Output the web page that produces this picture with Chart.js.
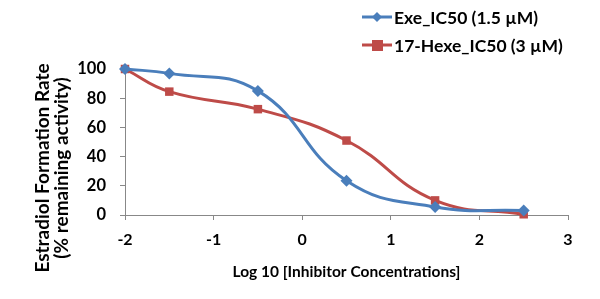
<!DOCTYPE html>
<html><head><meta charset="utf-8">
<script src="https://cdn.jsdelivr.net/npm/chart.js@4"></script>
<style>html,body{margin:0;padding:0;background:#fff}#wrap{width:600px;height:299px}</style>
</head><body><div id="wrap"><canvas id="c"></canvas></div>
<script>
const logConc = [-2, -1.5, -0.5, 0.5, 1.5, 2.5];
const exeValues = [100, 97, 85, 23.5, 5.5, 3];
const hexeValues = [100, 84.5, 72.5, 51, 10, 0.5];
const seriesNames = ['Exe_IC50 (1.5 \u00b5M)', '17-Hexe_IC50 (3 \u00b5M)'];
const yTitleLines = ['Estradiol Formation Rate', '(% remaining activity)'];
const xTitle = 'Log 10 [Inhibitor Concentrations]';
const xTicks = [-2, -1, 0, 1, 2, 3];
const yTicks = [0, 20, 40, 60, 80, 100];

const FONT = 'Lato, "Liberation Sans", sans-serif';
const BLUE = '#4A7EBB', RED = '#BE4B48';

const legendPlugin = {
  id: 'xlLegend',
  afterDraw(chart) {
    const ctx = chart.ctx;
    const items = [
      {name: seriesNames[0], color: BLUE, shape: 'diamond', y: 17},
      {name: seriesNames[1], color: RED, shape: 'square', y: 45}
    ];
    ctx.save();
    items.forEach(it => {
      ctx.strokeStyle = it.color; ctx.lineWidth = 3;
      ctx.beginPath(); ctx.moveTo(362, it.y); ctx.lineTo(392, it.y); ctx.stroke();
      ctx.fillStyle = it.color;
      if (it.shape === 'diamond') {
        ctx.beginPath(); ctx.moveTo(377, it.y - 5); ctx.lineTo(382, it.y); ctx.lineTo(377, it.y + 5); ctx.lineTo(372, it.y); ctx.closePath(); ctx.fill();
      } else {
        ctx.fillRect(372, it.y - 5, 11, 11);
      }
      ctx.fillStyle = '#000';
      ctx.font = 'bold 17.5px ' + FONT;
      ctx.textBaseline = 'middle';
      ctx.textAlign = 'left';
      ctx.fillText(it.name, 394, it.y + 1);
    });
    // y-axis title (two rotated lines)
    ctx.font = 'bold 19px ' + FONT;
    ctx.textAlign = 'center';
    ctx.textBaseline = 'middle';
    [43, 62].forEach((x, i) => {
      ctx.save();
      ctx.translate(x, 168);
      ctx.rotate(-Math.PI / 2);
      ctx.fillText(yTitleLines[i], 0, 0);
      ctx.restore();
    });
    ctx.restore();
  }
};

new Chart(document.getElementById('c'), {
  type: 'line',
  data: {
    datasets: [
      {label: seriesNames[0], data: logConc.map((x, i) => ({x, y: exeValues[i]})),
       borderColor: BLUE, backgroundColor: BLUE, borderWidth: 3, tension: 0.45, clip: false,
       pointStyle: 'rectRot', pointRadius: 6, pointHoverRadius: 6, pointBorderWidth: 0},
      {label: seriesNames[1], data: logConc.map((x, i) => ({x, y: hexeValues[i]})),
       borderColor: RED, backgroundColor: RED, borderWidth: 3, tension: 0.45, clip: false,
       pointStyle: 'rect', pointRadius: 6, pointHoverRadius: 6, pointBorderWidth: 0}
    ]
  },
  options: {
    responsive: true, maintainAspectRatio: false, animation: false,
    layout: {padding: {top: 69, right: 32, bottom: 14, left: 0}},
    plugins: {legend: {display: false}, tooltip: {enabled: false}},
    scales: {
      x: {
        type: 'linear', min: -2, max: 3,
        afterBuildTicks: s => { s.ticks = xTicks.map(v => ({value: v})); },
        afterFit: s => { s.height = 70; },
        border: {color: '#888', width: 1},
        grid: {drawOnChartArea: false, drawTicks: true, tickLength: 5, color: '#888'},
        ticks: {color: '#000', font: {family: FONT, size: 16, weight: 'bold'}, padding: 10},
        title: {display: true, text: xTitle, color: '#000',
                font: {family: FONT, size: 15.5, weight: 'bold'}, padding: {top: 6}}
      },
      y: {
        min: 0, max: 100,
        afterBuildTicks: s => { s.ticks = yTicks.map(v => ({value: v})); },
        afterFit: s => { s.width = 125; },
        border: {color: '#888', width: 1},
        grid: {drawOnChartArea: false, drawTicks: true, tickLength: 5, color: '#888'},
        ticks: {color: '#000', font: {family: FONT, size: 16.5, weight: 'bold'}, padding: 14},
        title: {display: false}
      }
    }
  },
  plugins: [legendPlugin]
});
</script></body></html>
